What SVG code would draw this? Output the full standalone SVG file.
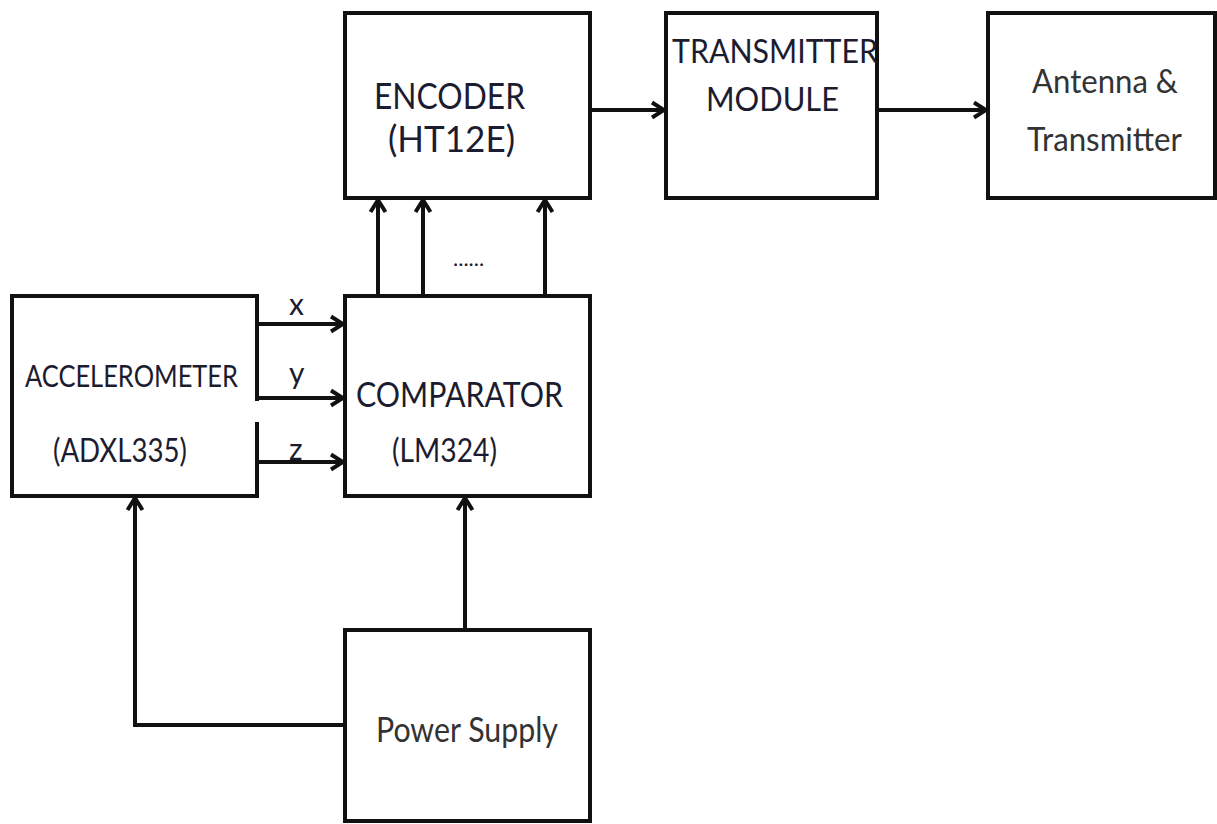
<svg xmlns="http://www.w3.org/2000/svg" width="1217" height="824" viewBox="0 0 1217 824">
<defs>
<marker id="arr" viewBox="0 0 16 20" refX="14" refY="10" markerWidth="16" markerHeight="20" markerUnits="userSpaceOnUse" orient="auto">
<path d="M2,2.5 L14,10 L2,17.5" fill="none" stroke="#111" stroke-width="4" stroke-linejoin="miter"/>
</marker>
</defs>
<style>
.box{fill:#fff;stroke:#111;stroke-width:4}
.ln{fill:none;stroke:#111;stroke-width:4}
.t{font-family:Lato,"Open Sans","Liberation Sans",sans-serif;fill:#1c1c30;text-anchor:start}
.g{fill:#333}
</style>
<rect width="1217" height="824" fill="#fff"/>
<g id="encoder">
<rect class="box" x="345" y="13" width="245" height="185"/>
<text class="t" x="374" y="109" font-size="36" textLength="151" lengthAdjust="spacingAndGlyphs">ENCODER</text>
<text class="t" x="388" y="152" font-size="36" textLength="127" lengthAdjust="spacingAndGlyphs">(HT12E)</text>
</g>
<g id="transmitter">
<rect class="box" x="666" y="13" width="211" height="185"/>
<text class="t" x="672" y="63" font-size="33" textLength="206" lengthAdjust="spacingAndGlyphs">TRANSMITTER</text>
<text class="t" x="706" y="111" font-size="33" textLength="133" lengthAdjust="spacingAndGlyphs">MODULE</text>
</g>
<g id="antenna">
<rect class="box" x="988" y="13" width="227" height="185"/>
<text class="t g" x="1032" y="93" font-size="32" textLength="146" lengthAdjust="spacingAndGlyphs">Antenna &amp;</text>
<text class="t g" x="1027" y="151" font-size="32" textLength="155" lengthAdjust="spacingAndGlyphs">Transmitter</text>
</g>
<g id="accelerometer">
<rect class="box" x="12" y="296" width="245" height="200"/>
<rect x="254" y="401" width="8" height="21" fill="#fff"/>
<text class="t" x="25" y="387" font-size="30" textLength="213" lengthAdjust="spacingAndGlyphs">ACCELEROMETER</text>
<text class="t" x="53" y="462" font-size="32" textLength="134" lengthAdjust="spacingAndGlyphs">(ADXL335)</text>
</g>
<g id="comparator">
<rect class="box" x="345" y="296" width="245" height="200"/>
<text class="t" x="356" y="407" font-size="34" textLength="207" lengthAdjust="spacingAndGlyphs">COMPARATOR</text>
<text class="t" x="392" y="462" font-size="32" textLength="105" lengthAdjust="spacingAndGlyphs">(LM324)</text>
</g>
<g id="power">
<rect class="box" x="345" y="630" width="245" height="191"/>
<text class="t g" x="376" y="742" font-size="34" textLength="182" lengthAdjust="spacingAndGlyphs">Power Supply</text>
</g>
<g id="connectors">
<line class="ln" x1="590" y1="110" x2="664" y2="110" marker-end="url(#arr)"/>
<line class="ln" x1="877" y1="110" x2="986" y2="110" marker-end="url(#arr)"/>
<line class="ln" x1="378" y1="296" x2="378" y2="200" marker-end="url(#arr)"/>
<line class="ln" x1="423" y1="296" x2="423" y2="200" marker-end="url(#arr)"/>
<line class="ln" x1="545" y1="296" x2="545" y2="200" marker-end="url(#arr)"/>
<line class="ln" x1="257" y1="324" x2="343" y2="324" marker-end="url(#arr)"/>
<line class="ln" x1="257" y1="398" x2="343" y2="398" marker-end="url(#arr)"/>
<line class="ln" x1="257" y1="462" x2="343" y2="462" marker-end="url(#arr)"/>
<line class="ln" x1="465" y1="630" x2="465" y2="498" marker-end="url(#arr)"/>
<polyline class="ln" points="345,725 135,725 135,498" marker-end="url(#arr)"/>
<text class="t" x="289" y="315" font-size="30">x</text>
<text class="t" x="289" y="384" font-size="30">y</text>
<text class="t" x="289" y="460" font-size="30">z</text>
<text class="t" x="453" y="266" font-size="22" fill="#333">......</text>
</g>
</svg>
